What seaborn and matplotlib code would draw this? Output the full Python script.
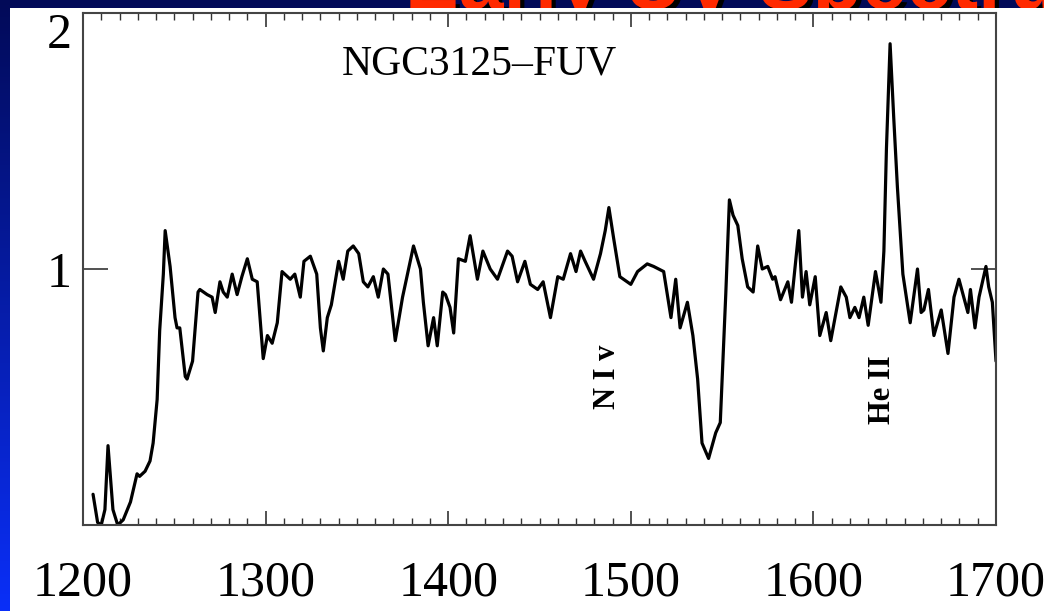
import numpy as np
import pandas as pd
import matplotlib
matplotlib.use("Agg")
import matplotlib.pyplot as plt
import matplotlib.patheffects as pe
import seaborn as sns
from matplotlib.ticker import FixedLocator, MultipleLocator
from matplotlib.patches import Rectangle
from matplotlib.colors import LinearSegmentedColormap

# Normalised far-UV spectrum of NGC 3125 (wavelength in Angstrom)
wavelength = [
    1205.5, 1208, 1210, 1212, 1213.7, 1216.4, 1219, 1222, 1226, 1229.6,
    1231, 1234, 1236.7, 1238.4, 1240.6, 1242, 1244, 1245, 1247.7, 1250.4,
    1251.5, 1253, 1256, 1257, 1260, 1263, 1264, 1268, 1270.7, 1272.4,
    1275, 1276.8, 1279, 1281.7, 1284.4, 1287, 1290, 1292.7, 1295.4, 1298.7,
    1301, 1303.6, 1306.4, 1309, 1312, 1313.5, 1316, 1319, 1321, 1324.5,
    1328, 1330, 1331.6, 1333.8, 1336, 1340, 1342.5, 1345, 1348, 1351,
    1353.5, 1356, 1359, 1361.7, 1364.5, 1367, 1371, 1375, 1381, 1384.8,
    1386.4, 1389, 1392, 1394, 1397, 1398.5, 1401, 1403, 1405.6, 1409.4,
    1412, 1416, 1419, 1423, 1427, 1432.5, 1435, 1438, 1442, 1445,
    1449, 1452, 1456, 1460, 1463, 1467, 1470, 1472.5, 1475, 1479.6,
    1483.4, 1486, 1488, 1490.6, 1494, 1500, 1503.7, 1509, 1512.5, 1518,
    1522, 1524.6, 1527, 1531, 1534, 1536.6, 1539, 1542.6, 1546.5, 1549,
    1552, 1554, 1556, 1558.6, 1561, 1564, 1567, 1569.5, 1572, 1575,
    1577.7, 1579, 1582, 1586, 1588, 1592, 1594, 1596, 1598, 1601,
    1603.5, 1607, 1609.5, 1615, 1618, 1620, 1622.7, 1625, 1627.6, 1630,
    1634, 1637, 1638.6, 1640, 1642, 1644, 1646, 1649, 1653, 1657,
    1659, 1660.5, 1663, 1666, 1670, 1673.7, 1677, 1679.7, 1684.6, 1686,
    1688.5, 1690.7, 1694.5, 1696, 1698, 1700,
]
flux = [
    0.12, 0.01, 0.00, 0.06, 0.31, 0.06, 0.00, 0.02, 0.09, 0.20,
    0.19, 0.21, 0.25, 0.32, 0.49, 0.76, 0.98, 1.15, 1.01, 0.81,
    0.77, 0.77, 0.58, 0.57, 0.64, 0.91, 0.92, 0.90, 0.89, 0.83,
    0.95, 0.91, 0.89, 0.98, 0.90, 0.97, 1.04, 0.96, 0.95, 0.65,
    0.74, 0.71, 0.79, 0.99, 0.97, 0.96, 0.98, 0.89, 1.03, 1.05,
    0.98, 0.77, 0.68, 0.81, 0.86, 1.03, 0.96, 1.07, 1.09, 1.06,
    0.95, 0.93, 0.97, 0.89, 1.00, 0.98, 0.72, 0.89, 1.09, 1.00,
    0.87, 0.70, 0.81, 0.70, 0.91, 0.90, 0.85, 0.75, 1.04, 1.03,
    1.13, 0.96, 1.07, 1.00, 0.96, 1.07, 1.05, 0.95, 1.03, 0.94,
    0.92, 0.95, 0.81, 0.97, 0.96, 1.06, 0.99, 1.07, 1.03, 0.96,
    1.06, 1.15, 1.24, 1.12, 0.97, 0.94, 0.99, 1.02, 1.01, 0.99,
    0.81, 0.96, 0.77, 0.87, 0.74, 0.57, 0.32, 0.26, 0.36, 0.40,
    0.90, 1.27, 1.21, 1.17, 1.04, 0.93, 0.91, 1.09, 1.00, 1.01,
    0.96, 0.97, 0.88, 0.95, 0.87, 1.15, 0.89, 0.99, 0.86, 0.97,
    0.74, 0.83, 0.72, 0.93, 0.89, 0.81, 0.85, 0.81, 0.89, 0.78,
    0.99, 0.87, 1.07, 1.47, 1.88, 1.59, 1.32, 0.98, 0.79, 1.00,
    0.83, 0.84, 0.92, 0.74, 0.84, 0.67, 0.89, 0.96, 0.83, 0.92,
    0.77, 0.89, 1.01, 0.93, 0.87, 0.64,
]

x_ticks = [1200, 1300, 1400, 1500, 1600, 1700]
x_tick_labels = ["1200", "1300", "1400", "1500", "1600", "1700"]
y_ticks = [1, 2]
y_tick_labels = ["1", "2"]

line_names = ["N I v", "He II"]
line_wavelength = [1487, 1638]
line_label_y = [0.58, 0.53]

spectrum_name = "NGC3125\u2013FUV"
slide_title = "Early UV Spectrum"

sns.set_theme(style="ticks")
plt.rcParams["font.family"] = ["Liberation Serif", "DejaVu Serif"]
plt.rcParams["text.color"] = "black"
plt.rcParams["xtick.labelcolor"] = "black"
plt.rcParams["ytick.labelcolor"] = "black"

W, H = 1044, 611
fig = plt.figure(figsize=(W / 100, H / 100), dpi=100)

# Slide backdrop: blue gradient, red heading with dark shadow, white panel
bg = fig.add_axes([0, 0, 1, 1])
bg.set_xlim(0, W)
bg.set_ylim(H, 0)
bg.axis("off")
grad = np.linspace(0, 1, 256)[:, None]
slide_cmap = LinearSegmentedColormap.from_list("slide", ["#020a58", "#0a2ff8"])
bg.imshow(grad, cmap=slide_cmap, extent=[0, W, H, 0], aspect="auto", zorder=0)
bg.text(405, 9, slide_title, color="#ff2a00", fontsize=58, fontweight="bold",
        family=["Liberation Sans", "DejaVu Sans"], va="baseline", zorder=3,
        path_effects=[pe.withSimplePatchShadow(offset=(3, -3),
                                               shadow_rgbFace="black",
                                               alpha=1.0)])
bg.add_patch(Rectangle((10, 8), W, H, facecolor="white", edgecolor="none", zorder=4))

# Spectrum panel
ax = fig.add_axes([83 / W, 1 - 525 / H, (996 - 83) / W, (525 - 13) / H])
df = pd.DataFrame({"wavelength": wavelength, "flux": flux})
sns.lineplot(data=df, x="wavelength", y="flux", ax=ax, color="black",
             linewidth=2.3, sort=True)

ax.set_xlim(1200, 1700)
ax.set_ylim(0, 2)
ax.set_xlabel("")
ax.set_ylabel("")

ax.xaxis.set_major_locator(FixedLocator(x_ticks))
ax.xaxis.set_minor_locator(MultipleLocator(10))
ax.set_xticklabels(x_tick_labels)
ax.yaxis.set_major_locator(FixedLocator(y_ticks))
ax.set_yticklabels(y_tick_labels)

ax.tick_params(axis="x", which="major", direction="in", length=10, width=1.2,
               top=True, bottom=True, labelsize=36, pad=25, color="#333333",
               labelcolor="black")
ax.tick_params(axis="x", which="minor", direction="in", length=5, width=1.0,
               top=True, bottom=True, color="#333333")
ax.tick_params(axis="y", which="major", direction="in", length=18, width=1.2,
               left=True, right=True, labelsize=36, pad=8, color="#333333",
               labelcolor="black")
ax.tick_params(axis="y", which="minor", left=False, right=False)

for lbl in ax.get_yticklabels():
    if lbl.get_text() == "2":
        lbl.set_verticalalignment("top")

for side in ["left", "right", "top", "bottom"]:
    ax.spines[side].set_linewidth(1.5)
    ax.spines[side].set_color("#444444")

ax.text(1417, 1.80, spectrum_name, ha="center", va="center", fontsize=30,
        color="black")
for name, wl, yy in zip(line_names, line_wavelength, line_label_y):
    ax.text(wl, yy, name, rotation=90, ha="center", va="center",
            fontsize=22, fontweight="bold", color="black")

fig.savefig("out.png", dpi=100)
